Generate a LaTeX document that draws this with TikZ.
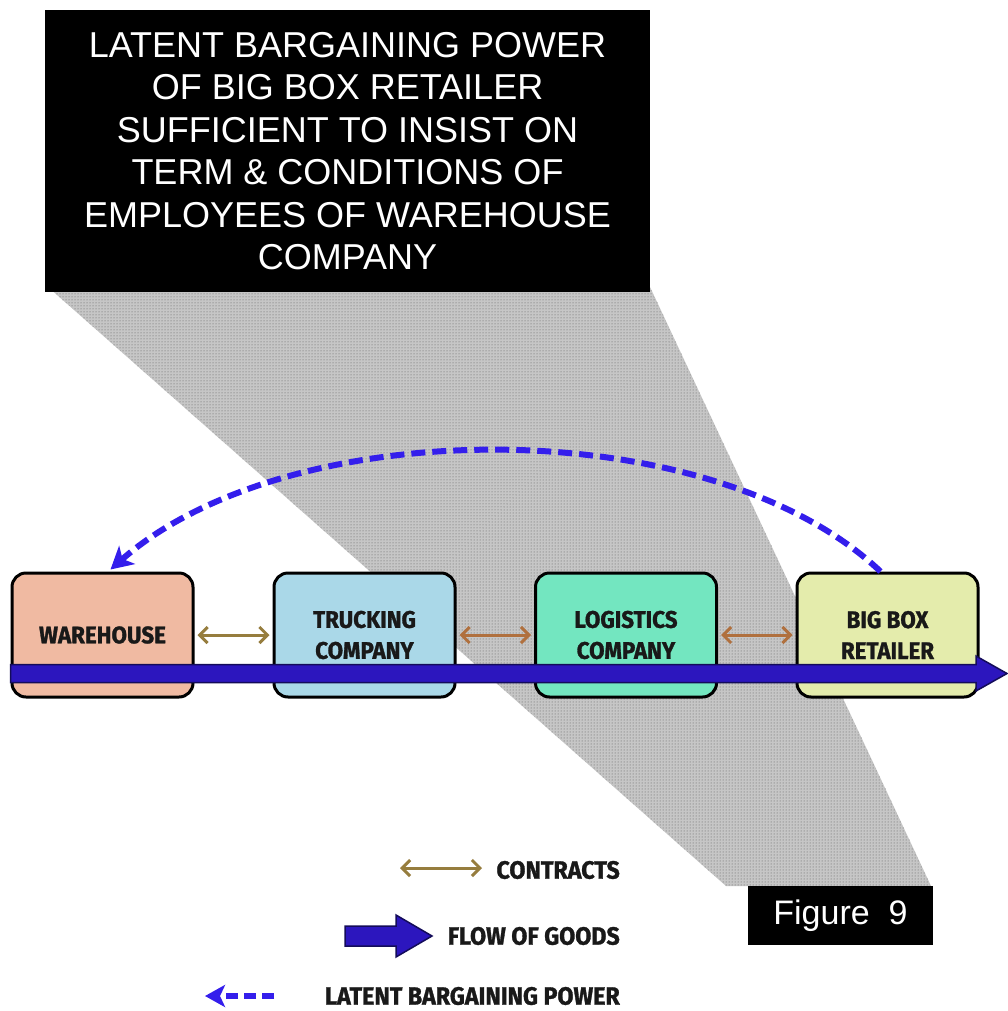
\documentclass[tikz,border=0pt]{standalone}
\usepackage{fontspec}
\setmainfont{Liberation Sans}
\newfontfamily\condbold[FakeStretch=0.93,FakeBold=1.2]{Fira Sans}
\usetikzlibrary{arrows.meta,calc,patterns}
\definecolor{whfill}{RGB}{240,186,162}
\definecolor{trfill}{RGB}{170,216,232}
\definecolor{lgfill}{RGB}{115,230,192}
\definecolor{bbfill}{RGB}{228,236,172}
\definecolor{flowblue}{RGB}{44,22,190}
\definecolor{flowedge}{RGB}{20,12,90}
\definecolor{latblue}{RGB}{52,30,236}
\definecolor{contrA}{RGB}{150,125,62}
\definecolor{contrB}{RGB}{176,112,62}
\definecolor{shadegray}{RGB}{198,198,198}
\tikzset{
  entity/.style={draw=black, line width=3pt, rounded corners=14pt, minimum width=181pt,
    minimum height=124pt, inner sep=0pt, align=center, text=black!90,
    font=\condbold\bfseries\fontsize{24}{31}\selectfont},
  blackbox/.style={fill=black, text=white, inner sep=0pt, align=center},
  contract/.style={line width=3pt, {Straight Barb[length=8pt,width=16pt]}-{Straight Barb[length=8pt,width=16pt]}, shorten <=3pt, shorten >=3pt},
  latent/.style={draw=latblue, line width=6pt, dash pattern=on 14pt off 7pt, -{Stealth[length=22pt,width=24pt,inset=6pt]}},
  flowshape/.style={fill=flowblue, draw=flowedge, line width=1.5pt, line join=miter},
  legendtext/.style={anchor=east, inner sep=0pt, font=\condbold\bfseries\fontsize{25}{30}\selectfont, text=black!90}
}
\begin{document}
\begin{tikzpicture}[x=1pt,y=-1pt]
\useasboundingbox (0,0) rectangle (1008,1011);
\fill[white] (0,0) rectangle (1008,1011);
% shaded wedge
\fill[shadegray] (48,287) -- (650,287) -- (931,886) -- (726,886) -- cycle;
\fill[pattern=dots, pattern color=black!65] (48,287) -- (650,287) -- (931,886) -- (726,886) -- cycle;
% title box
\node[blackbox, minimum width=605pt, minimum height=282pt,
  font=\fontsize{36}{42.5}\selectfont] (title) at (347.5,151)
  {LATENT BARGAINING POWER\\OF BIG BOX RETAILER\\SUFFICIENT TO INSIST ON\\TERM \& CONDITIONS OF\\EMPLOYEES OF WAREHOUSE\\COMPANY};
% entities
\node[entity, fill=whfill] (warehouse) at (102.5,635) {WAREHOUSE};
\node[entity, fill=trfill] (trucking) at (364.5,635) {TRUCKING\\COMPANY};
\node[entity, fill=lgfill] (logistics) at (626,635) {LOGISTICS\\COMPANY};
\node[entity, fill=bbfill] (bigbox) at (887.5,635) {BIG BOX\\RETAILER};
% contracts
\draw[contract, contrA] (warehouse.east) -- (trucking.west);
\draw[contract, contrB] (trucking.east) -- (logistics.west);
\draw[contract, contrB] (logistics.east) -- (bigbox.west);
% flow of goods
\coordinate (fs) at ($(warehouse.west)+(0,38.5)$);
\coordinate (fe) at (1007,673.5);
\filldraw[flowshape] ($(fs)+(0,-9)$) -- ($(fe)+(-31,-9)$) -- ($(fe)+(-31,-17.5)$) -- (fe)
  -- ($(fe)+(-31,17.5)$) -- ($(fe)+(-31,9)$) -- ($(fs)+(0,9)$) -- cycle;
% latent bargaining power
\draw[latent] ([xshift=-7pt]bigbox.north) .. controls (710,410) and (290,412) .. ([xshift=8pt,yshift=2pt]warehouse.north);
% legend
\node[legendtext] (lcon) at (620,870) {CONTRACTS};
\node[legendtext] (lflow) at (620,936) {FLOW OF GOODS};
\node[legendtext] (llat) at (620,996) {LATENT BARGAINING POWER};
\coordinate (c1) at (400,868);
\coordinate (c2) at (482,868);
\draw[contract, contrA, shorten <=0pt, shorten >=0pt] (c1) -- (c2);
\coordinate (g1) at (345,936);
\coordinate (g2) at (432,936);
\filldraw[flowshape] ($(g1)+(0,-10)$) -- ($(g2)+(-36,-10)$) -- ($(g2)+(-36,-21)$) -- (g2)
  -- ($(g2)+(-36,21)$) -- ($(g2)+(-36,10)$) -- ($(g1)+(0,10)$) -- cycle;
\coordinate (d1) at (274,996);
\coordinate (d2) at (205,996);
\draw[latent, line width=6pt, dash pattern=on 12pt off 6pt, -{Stealth[length=20pt,width=22pt,inset=5pt]}] (d1) -- (d2);
% figure label
\node[blackbox, minimum width=185pt, minimum height=59pt, font=\fontsize{34}{40}\selectfont] (fig) at (840.5,915.5) {Figure\ \ 9};
\end{tikzpicture}
\end{document}
